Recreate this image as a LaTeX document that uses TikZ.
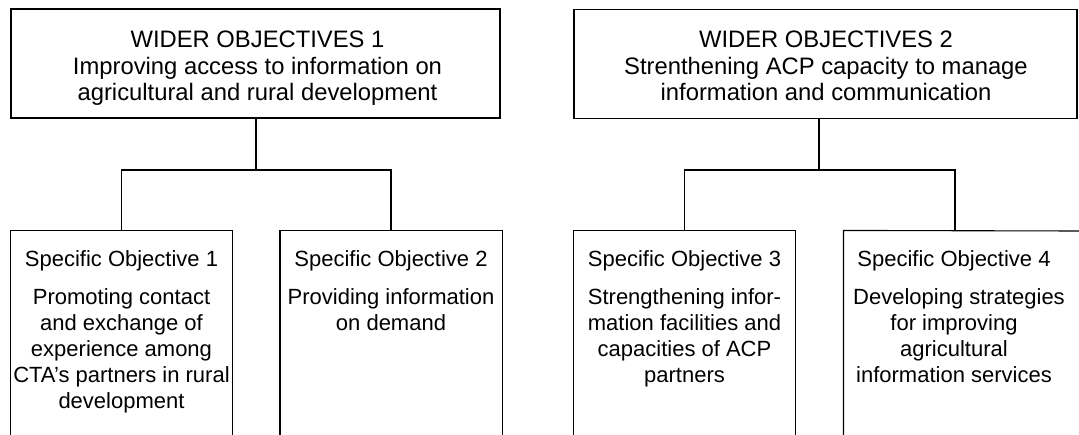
\documentclass[tikz,border=0pt]{standalone}
\usepackage{fontspec}
\setmainfont{Liberation Sans}
\begin{document}
\begin{tikzpicture}[x=1pt,y=-1pt,line width=1.1pt,
  widebox/.style={draw,rectangle,inner sep=0pt,minimum height=109pt},
  specbox/.style={rectangle,inner sep=0pt,minimum width=221pt,minimum height=204pt},
  toptext/.style={anchor=base,inner sep=0pt,font=\fontsize{23.8}{28}\selectfont},
  bodytext/.style={anchor=base,inner sep=0pt,font=\fontsize{22}{26}\selectfont},
  wire/.style={line width=1.1pt}]
\useasboundingbox (0,0) rectangle (1079,435);
% wider objective boxes
\node[widebox,minimum width=489pt] (w1) at (255.5,63.5) {};
\node[widebox,minimum width=503pt] (w2) at (825.5,64) {};
% top texts
\node[toptext] (w1a) at (257.5,48) {WIDER OBJECTIVES 1};
\node[toptext] (w1b) at (257.5,74.5) {Improving access to information on};
\node[toptext] (w1c) at (257.5,101) {agricultural and rural development};
\node[toptext] (w2a) at (826,48) {WIDER OBJECTIVES 2};
\node[toptext] (w2b) at (826,74.5) {Strenthening ACP capacity to manage};
\node[toptext] (w2c) at (826,101) {information and communication};
% specific objective boxes (open at the bottom)
\node[specbox] (s1) at (121.5,333) {};
\node[specbox] (s2) at (391,333) {};
\node[specbox] (s3) at (684.5,333) {};
\node[specbox,minimum width=222pt] (s4) at (955,333) {};
\coordinate (e4) at (1079,231);
\draw (s1.south west) -- (s1.north west) -- (s1.north east) -- (s1.south east);
\draw (s2.south west) -- (s2.north west) -- (s2.north east) -- (s2.south east);
\draw (s3.south west) -- (s3.north west) -- (s3.north east) -- (s3.south east);
\draw (s4.south west) -- (s4.north west) -- (e4);
% connectors
\coordinate (j1) at (256,170);
\coordinate (j2) at (819,170);
\draw[wire] (w1.south -| j1) -- (j1);
\draw[wire] (s1.north) |- (j1) -| (s2.north);
\draw[wire] (w2.south -| j2) -- (j2);
\draw[wire] (s3.north) |- (j2) -| (s4.north);
% specific texts
\node[bodytext] (s1h) at (121.5,267) {Specific Objective 1};
\node[bodytext] (s1a) at (121.5,305) {Promoting contact};
\node[bodytext] (s1b) at (121.5,331) {and exchange of};
\node[bodytext] (s1c) at (121.5,357) {experience among};
\node[bodytext] (s1d) at (121.5,383) {CTA’s partners in rural};
\node[bodytext] (s1e) at (121.5,409) {development};
\node[bodytext] (s2h) at (391,267) {Specific Objective 2};
\node[bodytext] (s2a) at (391,305) {Providing information};
\node[bodytext] (s2b) at (391,331) {on demand};
\node[bodytext] (s3h) at (684.5,267) {Specific Objective 3};
\node[bodytext] (s3a) at (684.5,305) {Strengthening infor-};
\node[bodytext] (s3b) at (684.5,331) {mation facilities and};
\node[bodytext] (s3c) at (684.5,357) {capacities of ACP};
\node[bodytext] (s3d) at (684.5,383) {partners};
\node[bodytext] (s4h) at (954,267) {Specific Objective 4};
\node[bodytext] (s4a) at (959,305) {Developing strategies};
\node[bodytext] (s4b) at (954,331) {for improving};
\node[bodytext] (s4c) at (954,357) {agricultural};
\node[bodytext] (s4d) at (954,383) {information services};
\end{tikzpicture}
\end{document}
